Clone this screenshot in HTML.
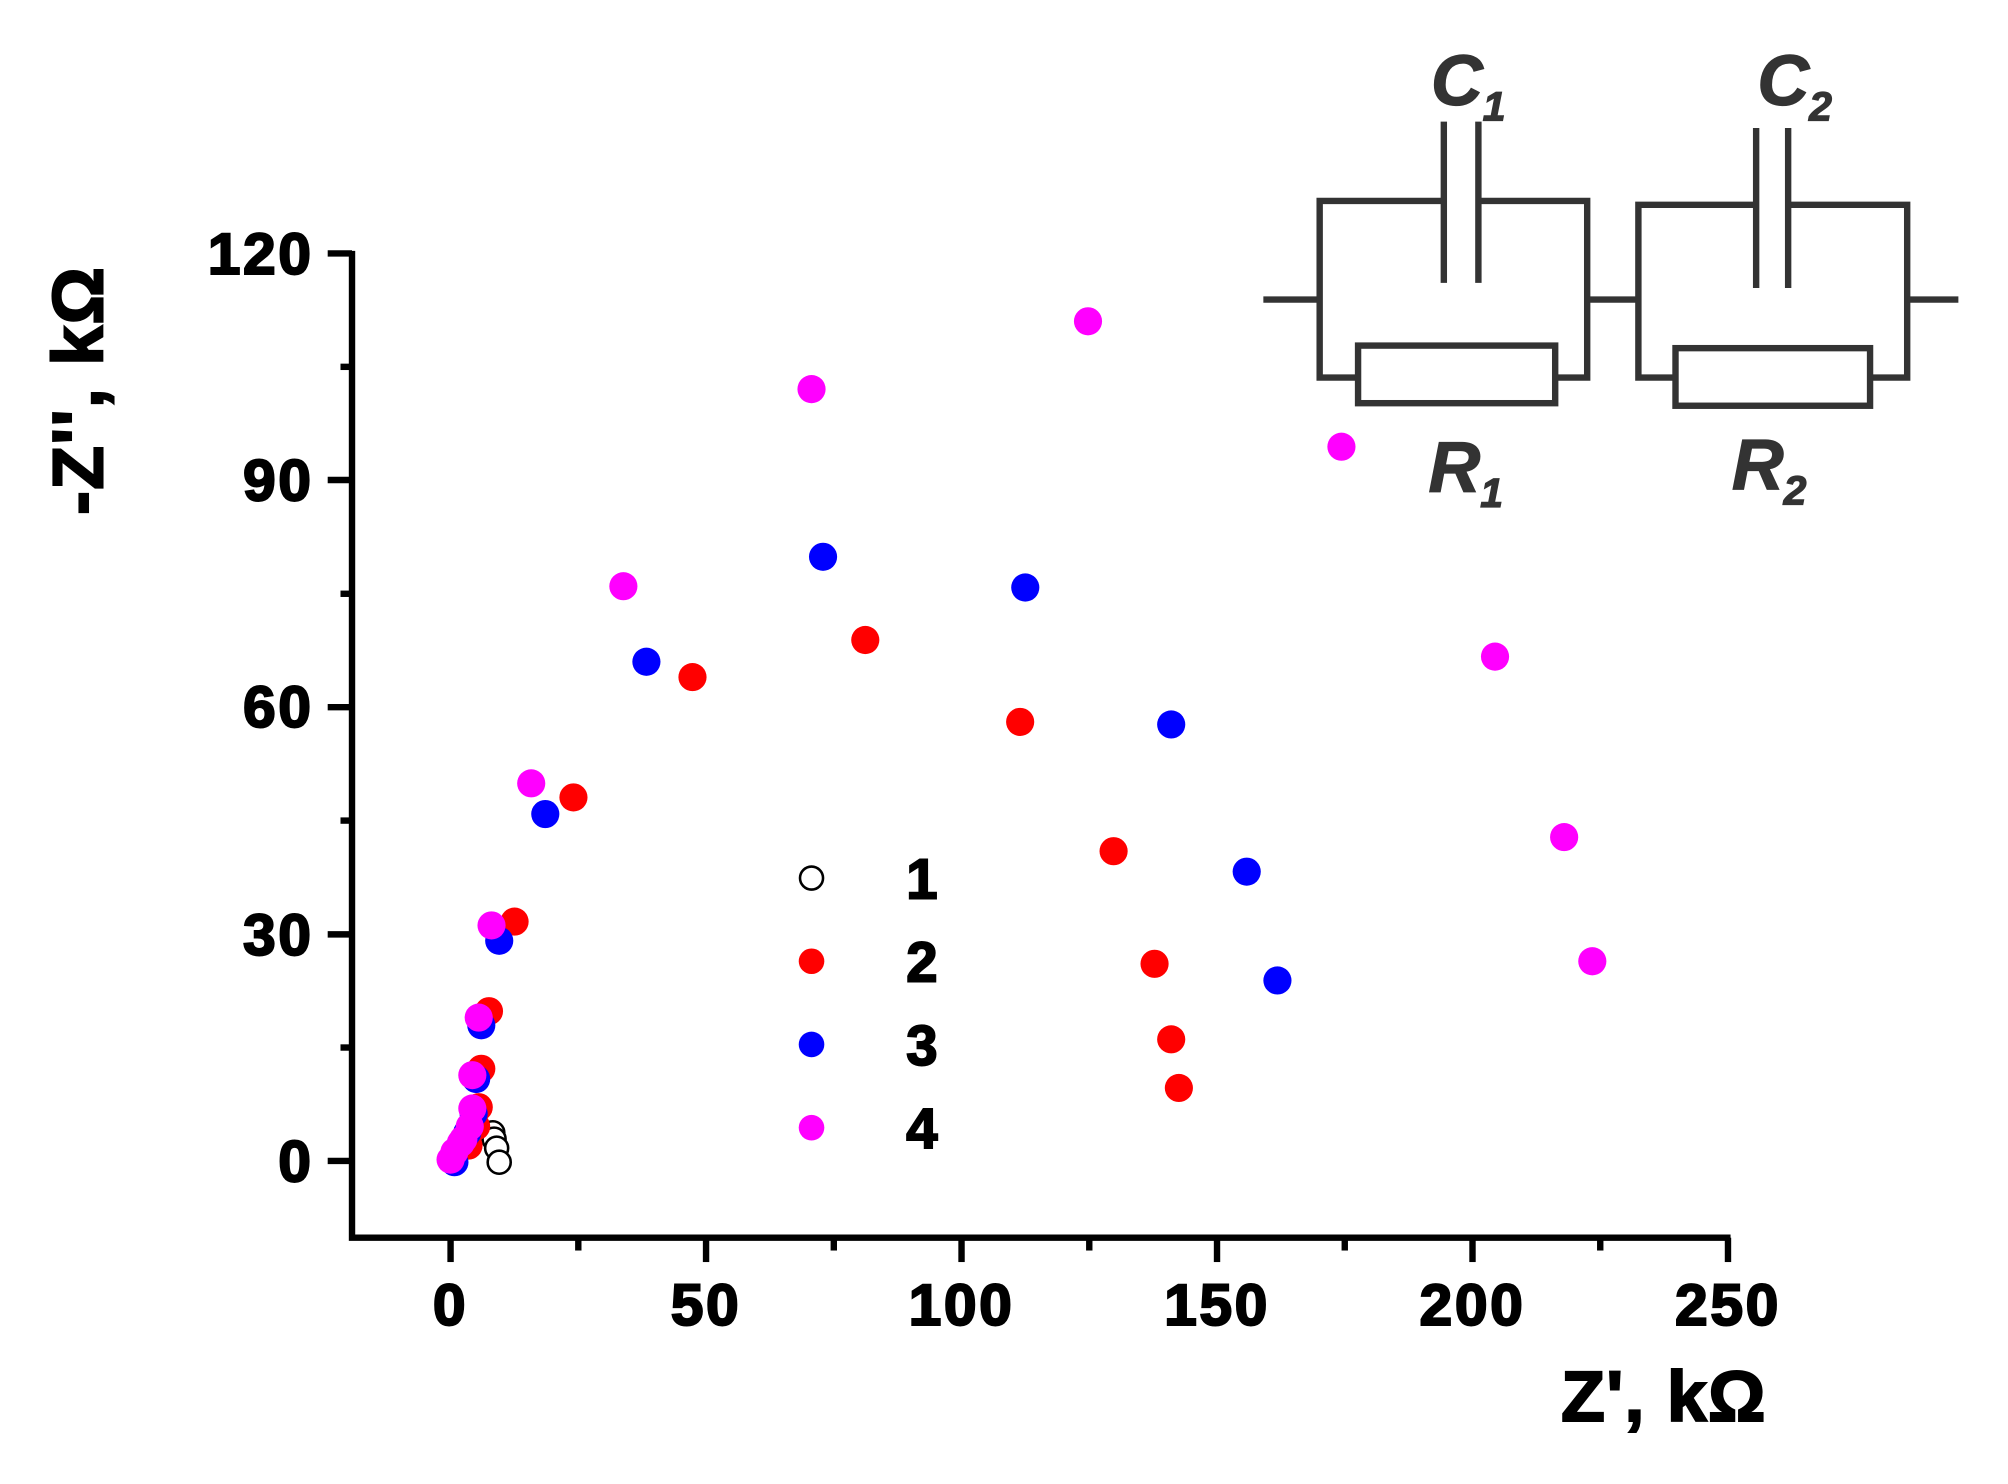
<!DOCTYPE html>
<html><head><style>html,body{margin:0;padding:0;background:#fff}svg{display:block}</style></head>
<body>
<svg width="2008" height="1484" viewBox="0 0 1568.75 1159.4" xmlns="http://www.w3.org/2000/svg" font-family="Liberation Sans, Arial, sans-serif">
<g stroke="#000" stroke-width="5" fill="none">
<polyline points="275,196 275,967 1352,967"/>
<line x1="256" y1="198" x2="275" y2="198"/><line x1="256" y1="375" x2="275" y2="375"/><line x1="256" y1="552.5" x2="275" y2="552.5"/><line x1="256" y1="730" x2="275" y2="730"/><line x1="256" y1="907" x2="275" y2="907"/>
<line x1="266" y1="286.6" x2="275" y2="286.6"/><line x1="266" y1="463.9" x2="275" y2="463.9"/><line x1="266" y1="641.1" x2="275" y2="641.1"/><line x1="266" y1="818.4" x2="275" y2="818.4"/>
<line x1="352" y1="967" x2="352" y2="986"/><line x1="551.6" y1="967" x2="551.6" y2="986"/><line x1="751.2" y1="967" x2="751.2" y2="986"/><line x1="950.8" y1="967" x2="950.8" y2="986"/><line x1="1150.4" y1="967" x2="1150.4" y2="986"/><line x1="1350" y1="967" x2="1350" y2="986"/>
<line x1="451.8" y1="967" x2="451.8" y2="977"/><line x1="651.4" y1="967" x2="651.4" y2="977"/><line x1="851" y1="967" x2="851" y2="977"/><line x1="1050.6" y1="967" x2="1050.6" y2="977"/><line x1="1250.2" y1="967" x2="1250.2" y2="977"/>
</g>
<g font-weight="bold" font-size="46" text-anchor="end" fill="#000" stroke="#000" stroke-width="1.6" letter-spacing="2">
<text x="245" y="214">120</text><text x="245" y="391">90</text><text x="245" y="568">60</text><text x="245" y="746">30</text><text x="245" y="923">0</text>
</g>
<g font-weight="bold" font-size="46" text-anchor="middle" fill="#000" stroke="#000" stroke-width="1.6" letter-spacing="2">
<text x="352" y="1035">0</text><text x="551.6" y="1035">50</text><text x="751.2" y="1035">100</text><text x="950.8" y="1035">150</text><text x="1150.4" y="1035">200</text><text x="1350" y="1035">250</text>
</g>
<text x="1300" y="1110" font-weight="bold" font-size="56" text-anchor="middle" stroke="#000" stroke-width="1.6" letter-spacing="1">Z', kΩ</text>
<text transform="translate(80,305) rotate(-90)" font-weight="bold" font-size="56" text-anchor="middle" stroke="#000" stroke-width="1.6" letter-spacing="1">-Z'', kΩ</text>
<g stroke="#333" stroke-width="5" fill="none">
<line x1="987" y1="234" x2="1031" y2="234"/>
<polyline points="1128,157 1031,157 1031,295 1061,295"/>
<polyline points="1155,157 1240,157 1240,295 1215,295"/>
<rect x="1061" y="270" width="154" height="45"/>
<line x1="1128" y1="95" x2="1128" y2="221"/><line x1="1155" y1="95" x2="1155" y2="221"/>
<line x1="1240" y1="234" x2="1280" y2="234"/>
<polyline points="1372,160 1280,160 1280,295 1309,295"/>
<polyline points="1397,160 1490,160 1490,295 1461,295"/>
<rect x="1309" y="272" width="152" height="45"/>
<line x1="1372" y1="100" x2="1372" y2="225"/><line x1="1397" y1="100" x2="1397" y2="225"/>
<line x1="1490" y1="234" x2="1530" y2="234"/>
</g>
<g fill="#333" font-weight="bold" font-style="italic" stroke="#333" stroke-width="1">
<text x="1118" y="82" font-size="56">C<tspan font-size="32" dy="12">1</tspan></text>
<text x="1373" y="82" font-size="56">C<tspan font-size="32" dy="12">2</tspan></text>
<text x="1116" y="384" font-size="56">R<tspan font-size="32" dy="12">1</tspan></text>
<text x="1353" y="382" font-size="56">R<tspan font-size="32" dy="12">2</tspan></text>
</g>
<g fill="#fff" stroke="#000" stroke-width="2">
<circle cx="385" cy="885" r="9"/><circle cx="386" cy="890" r="9"/><circle cx="388" cy="897" r="9"/><circle cx="390" cy="908" r="9"/>
</g>
<g fill="#ff0000">
<circle cx="676" cy="500" r="11"/><circle cx="541" cy="529" r="11"/><circle cx="797" cy="564" r="11"/><circle cx="448" cy="623" r="11"/><circle cx="870" cy="665" r="11"/><circle cx="402" cy="720" r="11"/><circle cx="902" cy="753" r="11"/><circle cx="915" cy="812" r="11"/><circle cx="921" cy="850" r="11"/><circle cx="382" cy="790" r="11"/><circle cx="376" cy="835" r="11"/><circle cx="374" cy="865" r="11"/><circle cx="372" cy="880" r="11"/><circle cx="366" cy="895" r="11"/>
</g>
<g fill="#0000ff">
<circle cx="643" cy="435" r="11"/><circle cx="801" cy="459" r="11"/><circle cx="505" cy="517" r="11"/><circle cx="915" cy="566" r="11"/><circle cx="426" cy="636" r="11"/><circle cx="974" cy="681" r="11"/><circle cx="998" cy="766" r="11"/><circle cx="390" cy="735" r="11"/><circle cx="376" cy="801" r="11"/><circle cx="372" cy="843" r="11"/><circle cx="370" cy="870" r="11"/><circle cx="365" cy="885" r="11"/><circle cx="355" cy="908" r="11"/>
</g>
<g fill="#ff00ff">
<circle cx="850" cy="251" r="11"/><circle cx="634" cy="304" r="11"/><circle cx="1048" cy="349" r="11"/><circle cx="487" cy="458" r="11"/><circle cx="1168" cy="513" r="11"/><circle cx="415" cy="612" r="11"/><circle cx="1222" cy="654" r="11"/><circle cx="1244" cy="751" r="11"/><circle cx="384" cy="723" r="11"/><circle cx="374" cy="795" r="11"/><circle cx="369" cy="840" r="11"/><circle cx="369" cy="866" r="11"/><circle cx="367" cy="880" r="11"/><circle cx="362" cy="890" r="11"/><circle cx="360" cy="893" r="11"/><circle cx="355" cy="900" r="11"/><circle cx="352" cy="906" r="11"/>
</g>
<circle cx="634" cy="686" r="9" fill="#fff" stroke="#000" stroke-width="2"/>
<circle cx="634" cy="751" r="10" fill="#ff0000"/>
<circle cx="634" cy="816" r="10" fill="#0000ff"/>
<circle cx="634" cy="881" r="10" fill="#ff00ff"/>
<g font-weight="bold" font-size="44" fill="#000" stroke="#000" stroke-width="1.5">
<text x="708" y="702">1</text><text x="708" y="767">2</text><text x="708" y="832">3</text><text x="708" y="897">4</text>
</g>
</svg>
</body></html>
